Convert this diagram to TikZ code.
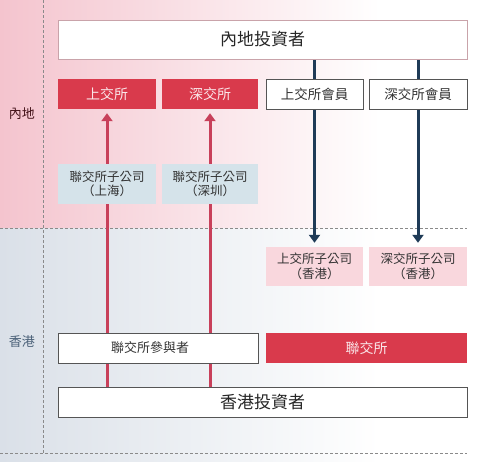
\documentclass[tikz,border=0pt]{standalone}
\usepackage{fontspec}
\newfontfamily\cjk{Noto Sans CJK TC}
\usetikzlibrary{arrows.meta}
\pgfdeclarelayer{bg}
\pgfdeclarelayer{lines}
\pgfsetlayers{bg,lines,main}
\definecolor{redbox}{HTML}{D93A4C}
\definecolor{redline}{HTML}{C8405A}
\definecolor{bluebox}{HTML}{D5E3EA}
\definecolor{pinkbox}{HTML}{F9D7DD}
\definecolor{navy}{HTML}{1F3B57}
\definecolor{bgpink}{HTML}{F4C4CE}
\definecolor{bggray}{HTML}{DAE0E8}
\definecolor{txt}{HTML}{333333}
\definecolor{boxline}{HTML}{555555}
\definecolor{topline}{HTML}{C9A3AA}
\definecolor{dashc}{HTML}{8A8A8A}
\tikzset{
  box/.style={inner sep=0pt, font=\cjk\fontsize{13}{15}\selectfont, text=txt, align=center},
  whitebox/.style={box, draw=boxline, line width=0.9pt, fill=white},
  redfill/.style={box, fill=redbox, text=white!88!redbox, font=\cjk\fontsize{14}{16}\selectfont},
  subbox/.style={box, fill=bluebox, font=\cjk\fontsize{12.5}{14.5}\selectfont},
  hksub/.style={box, fill=pinkbox, font=\cjk\fontsize{12.5}{14.5}\selectfont},
  bigbox/.style={whitebox, font=\cjk\fontsize{17}{19}\selectfont, text=black!85},
  redarrow/.style={draw=redline, line width=3pt, -{Triangle[width=11pt,length=8pt]}, shorten >=4pt},
  navyarrow/.style={draw=navy, line width=3pt, -{Triangle[width=11pt,length=8pt]}, shorten >=4pt},
  divider/.style={draw=dashc, line width=0.9pt, dash pattern=on 3pt off 2pt},
  sidelabel/.style={inner sep=0pt, font=\cjk\fontsize{13}{15}\selectfont}
}
\begin{document}
\begin{tikzpicture}[x=1pt,y=-1pt]
\useasboundingbox (0,0) rectangle (500,461);
\begin{pgfonlayer}{bg}
  \fill[white] (0,0) rectangle (500,461);
  \shade[left color=bgpink, right color=white] (0,0) rectangle (380,228);
  \shade[left color=bggray, right color=white] (0,228) rectangle (380,461);
  \draw[divider] (43,0) -- (43,453);
  \draw[divider] (0,228) -- (467,228);
  \draw[divider] (0,453) -- (467,453);
\end{pgfonlayer}

\node[sidelabel, text=black!70!redbox] (lblml) at (22,114) {內地};
\node[sidelabel, text=navy!80] (lblhk) at (22,342) {香港};

\node[bigbox, draw=topline, minimum width=409pt, minimum height=39pt] (mlinv) at (262.5,39.5) {內地投資者};
\node[redfill, minimum width=98pt, minimum height=30pt] (sse) at (107,94) {上交所};
\node[redfill, minimum width=96pt, minimum height=30pt] (szse) at (210,94) {深交所};
\node[whitebox, font=\cjk\fontsize{13.5}{15}\selectfont, minimum width=97pt, minimum height=30pt] (ssemem) at (314.5,94) {上交所會員};
\node[whitebox, font=\cjk\fontsize{13.5}{15}\selectfont, minimum width=98pt, minimum height=30pt] (szsemem) at (418,94) {深交所會員};
\node[subbox, minimum width=98pt, minimum height=40pt] (sub1) at (107,184) {聯交所子公司\\（上海）};
\node[subbox, minimum width=96pt, minimum height=40pt] (sub2) at (210,184) {聯交所子公司\\（深圳）};
\node[hksub, minimum width=97pt, minimum height=39pt] (hk1) at (314.5,266.5) {上交所子公司\\（香港）};
\node[hksub, minimum width=98pt, minimum height=39pt] (hk2) at (418,266.5) {深交所子公司\\（香港）};
\node[whitebox, minimum width=200pt, minimum height=30pt, text width=194pt, align=left] (part) at (158,348) {\hspace*{50pt}聯交所參與者};
\node[redfill, minimum width=201pt, minimum height=30pt] (hkex) at (366.5,348) {聯交所};
\node[bigbox, minimum width=409pt, minimum height=30pt] (hkinv) at (262.5,402) {香港投資者};

\begin{pgfonlayer}{lines}
  \draw[redarrow] (hkinv.north -| sse.south) -- (sse.south);
  \draw[redarrow] (hkinv.north -| szse.south) -- (szse.south);
  \draw[navyarrow] (mlinv.south -| hk1.north) -- (hk1.north);
  \draw[navyarrow] (mlinv.south -| hk2.north) -- (hk2.north);
\end{pgfonlayer}
\end{tikzpicture}
\end{document}
